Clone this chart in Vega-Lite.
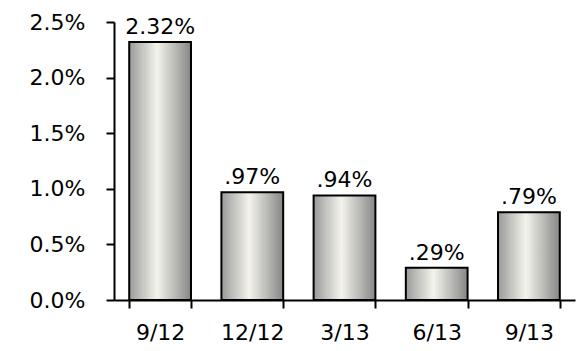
{
  "$schema": "https://vega.github.io/schema/vega-lite/v6.json",
  "width": 461,
  "height": 278,
  "autosize": "none",
  "padding": {"left": 114, "top": 22, "right": 6, "bottom": 51},
  "background": "white",
  "config": {
    "view": {"stroke": null},
    "font": "DejaVu Sans",
    "axis": {"grid": false, "domainColor": "black", "tickColor": "black", "domainWidth": 2, "tickWidth": 2, "labelColor": "black", "labelFont": "DejaVu Sans", "labelFontSize": 22}
  },
  "data": {
    "values": [
      {"quarter": "9/12", "rate": 0.0232, "label": "2.32%"},
      {"quarter": "12/12", "rate": 0.0097, "label": ".97%"},
      {"quarter": "3/13", "rate": 0.0094, "label": ".94%"},
      {"quarter": "6/13", "rate": 0.0029, "label": ".29%"},
      {"quarter": "9/13", "rate": 0.0079, "label": ".79%"}
    ]
  },
  "encoding": {
    "x": {
      "field": "quarter",
      "type": "nominal",
      "sort": null,
      "scale": {"paddingInner": 0.33, "paddingOuter": 0.165},
      "axis": {"title": null, "labelAngle": 0, "tickBand": "extent", "tickSize": 8, "labelPadding": 14}
    },
    "y": {
      "field": "rate",
      "type": "quantitative",
      "scale": {"domain": [0, 0.025], "nice": false},
      "axis": {"title": null, "format": ".1%", "values": [0, 0.005, 0.01, 0.015, 0.02, 0.025], "tickSize": 8, "labelPadding": 21}
    }
  },
  "layer": [
    {
      "mark": {
        "type": "bar",
        "stroke": "black",
        "strokeWidth": 2,
        "fill": {
          "gradient": "linear",
          "x1": 0, "y1": 0, "x2": 1, "y2": 0,
          "stops": [
            {"offset": 0, "color": "#9a9a9a"},
            {"offset": 0.45, "color": "#f4f4ec"},
            {"offset": 1, "color": "#868686"}
          ]
        }
      }
    },
    {
      "mark": {"type": "text", "baseline": "alphabetic", "dy": -8, "fontSize": 22, "color": "black"},
      "encoding": {"text": {"field": "label"}}
    }
  ]
}
